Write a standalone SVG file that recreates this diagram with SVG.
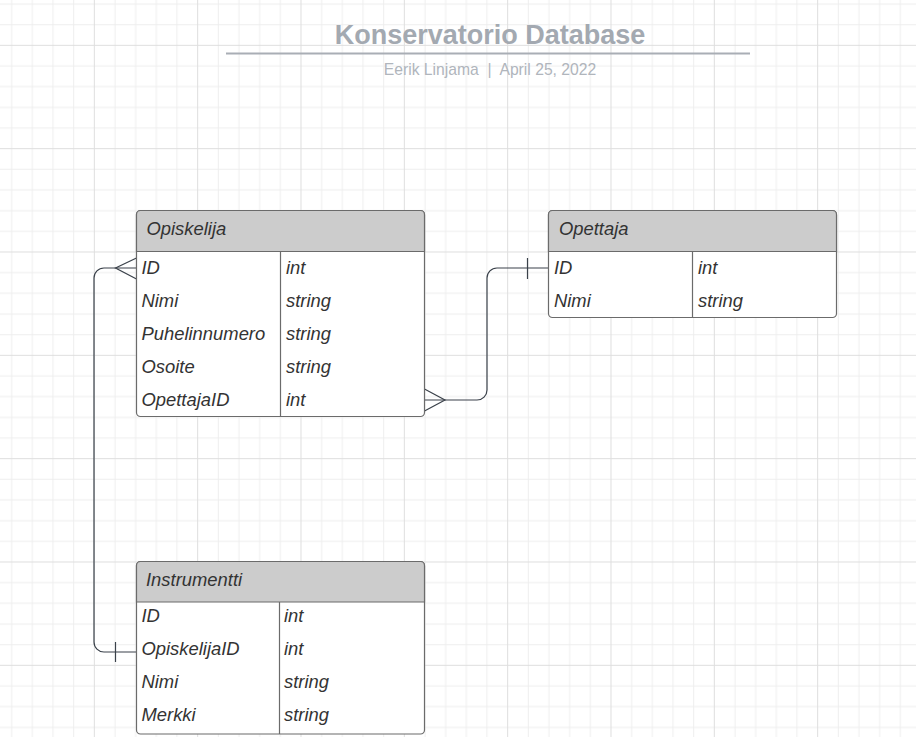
<svg xmlns="http://www.w3.org/2000/svg" width="916" height="737" viewBox="0 0 916 737">
<style>
.tbl{fill:#ffffff;stroke:#6b6b6b;stroke-width:1.2}
.hdr{fill:#cccccc;stroke:#6b6b6b;stroke-width:1.2}
.div{stroke:#6b6b6b;stroke-width:1.2;fill:none}
.t{font-family:"Liberation Sans",Arial,sans-serif;font-size:18.4px;font-style:italic;fill:#333333}
.con{fill:none;stroke:#3a414a;stroke-width:1.2}
.title{font-family:"Liberation Sans",Arial,sans-serif;font-size:27px;font-weight:bold;fill:#a3a9b1}
.sub{font-family:"Liberation Sans",Arial,sans-serif;font-size:15.7px;fill:#b0b5bc;white-space:pre}
</style>
<defs>
<pattern id="grid" x="-9.5" y="-58.5" width="103.333" height="103.333" patternUnits="userSpaceOnUse">
<path d="M21.167 0V103.333M41.833 0V103.333M62.5 0V103.333M83.167 0V103.333M0 21.167H103.333M0 41.833H103.333M0 62.5H103.333M0 83.167H103.333" stroke="#eeeeee" stroke-width="1" fill="none"/>
<path d="M0.5 0V103.333M0 0.5H103.333" stroke="#dedede" stroke-width="1" fill="none"/>
</pattern>
</defs>
<rect width="916" height="737" fill="#ffffff"/>
<rect width="916" height="737" fill="url(#grid)"/>

<g id="title">
<text class="title" x="490" y="44" text-anchor="middle">Konservatorio Database</text>
<path d="M226 53.5H750" stroke="#a9aeb5" stroke-width="2"/>
<text class="sub" x="490" y="75" text-anchor="middle" xml:space="preserve">Eerik Linjama  |  April 25, 2022</text>
</g>

<g id="connectors">
<path class="con" d="M424.5 400H477A10 10 0 0 0 487 390V278A10 10 0 0 1 497 268H548.5"/>
<path class="con" d="M424.5 389L445 400L424.5 411"/>
<path class="con" d="M527.5 258V279"/>
<path class="con" d="M136.5 268H104A10 10 0 0 0 94 278V642A10 10 0 0 0 104 652H136.5"/>
<path class="con" d="M136.5 258L115.5 268L136.5 279"/>
<path class="con" d="M115.5 642V662"/>
</g>

<g id="opiskelija">
<rect class="tbl" x="136.5" y="210.5" width="288" height="206" rx="4"/>
<path class="hdr" d="M136.5 251.5V214.5A4 4 0 0 1 140.5 210.5H420.5A4 4 0 0 1 424.5 214.5V251.5Z"/>
<path class="div" d="M280.5 251.5V416.5"/>
<text class="t" x="146.5" y="234.5">Opiskelija</text>
<text class="t" x="141.5" y="273.5">ID</text>
<text class="t" x="286" y="273.5">int</text>
<text class="t" x="141.5" y="306.5">Nimi</text>
<text class="t" x="286" y="306.5">string</text>
<text class="t" x="141.5" y="339.5">Puhelinnumero</text>
<text class="t" x="286" y="339.5">string</text>
<text class="t" x="141.5" y="372.5">Osoite</text>
<text class="t" x="286" y="372.5">string</text>
<text class="t" x="141.5" y="405.5">OpettajaID</text>
<text class="t" x="286" y="405.5">int</text>
</g>

<g id="opettaja">
<rect class="tbl" x="548.5" y="210.5" width="288" height="107" rx="4"/>
<path class="hdr" d="M548.5 251.5V214.5A4 4 0 0 1 552.5 210.5H832.5A4 4 0 0 1 836.5 214.5V251.5Z"/>
<path class="div" d="M692.5 251.5V317.5"/>
<text class="t" x="559" y="234.5">Opettaja</text>
<text class="t" x="554" y="273.5">ID</text>
<text class="t" x="698" y="273.5">int</text>
<text class="t" x="554" y="306.5">Nimi</text>
<text class="t" x="698" y="306.5">string</text>
</g>

<g id="instrumentti">
<rect class="tbl" x="136.5" y="561.5" width="288" height="172.5" rx="4"/>
<path class="hdr" d="M136.5 602V565.5A4 4 0 0 1 140.5 561.5H420.5A4 4 0 0 1 424.5 565.5V602Z"/>
<path class="div" d="M279.5 602V734"/>
<text class="t" x="146" y="585.5">Instrumentti</text>
<text class="t" x="141.5" y="621.5">ID</text>
<text class="t" x="284" y="621.5">int</text>
<text class="t" x="141.5" y="655">OpiskelijaID</text>
<text class="t" x="284" y="655">int</text>
<text class="t" x="141.5" y="688">Nimi</text>
<text class="t" x="284" y="688">string</text>
<text class="t" x="141.5" y="721">Merkki</text>
<text class="t" x="284" y="721">string</text>
</g>
</svg>
